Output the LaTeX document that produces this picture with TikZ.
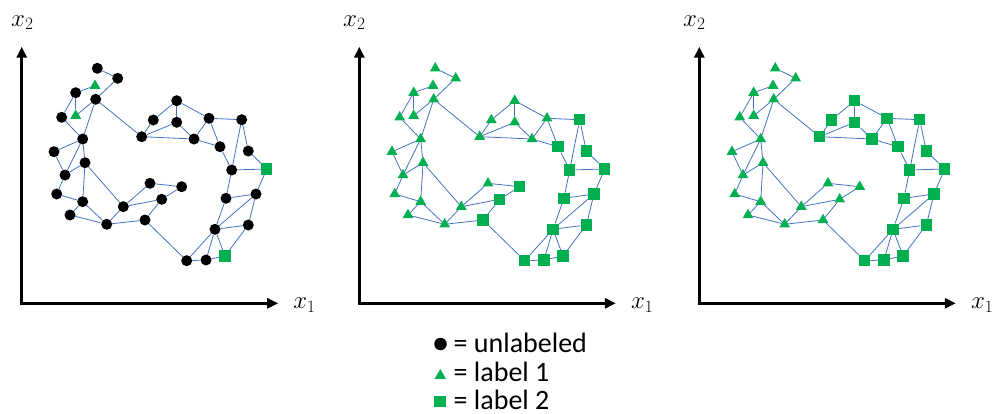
\documentclass[tikz,border=0pt]{standalone}
\usepackage{fontspec}
\newfontfamily\legendfont{Carlito}
\usetikzlibrary{shapes.geometric,arrows.meta}
\definecolor{linkblue}{HTML}{4472C4}
\definecolor{labgreen}{HTML}{00B050}
\tikzset{
	link/.style={draw=linkblue, line width=0.8pt},
	vu/.style={circle, fill=black, inner sep=0pt, minimum size=11pt},
	vt/.style={regular polygon, regular polygon sides=3, fill=labgreen, inner sep=0pt, minimum size=12.5pt},
	vs/.style={rectangle, fill=labgreen, inner sep=0pt, minimum size=11.5pt},
	axis/.style={line width=3pt, line join=miter, {Triangle[length=11pt,width=10pt]}-{Triangle[length=11pt,width=10pt]}},
	axlabel/.style={font=\fontsize{26}{30}\selectfont, inner sep=0pt},
	legtext/.style={anchor=base west, inner sep=0pt, font=\legendfont\fontsize{28}{30}\selectfont},
}
\begin{document}
\begin{tikzpicture}[x=1pt,y=-1pt,line join=round,line cap=round]
	\useasboundingbox (0,0) rectangle (995,413);
	
	% axes of the three panels
	\foreach \p/\ox/\lx in {a/21.7/11, b/359.3/343, c/699.3/683} {
		\coordinate (\p o) at (\ox,303.3);
		\coordinate (\p top) at (\ox,46.7);
		\coordinate (\p right) at (\ox+256.5,303.3);
		\draw[axis] (\p top) -- (\p o) -- (\p right);
		\node[axlabel, anchor=base west] (\p x2) at (\lx,26) {$x_2$};
		\node[axlabel, anchor=base west] (\p x1) at (\ox+271.5,308.3) {$x_1$};
	}
	
	% the same points in each panel: unlabeled (u), label 1 (t), label 2 (s)
	\foreach \i/\x/\y/\ka/\kb/\kc in {
		1/97.3/68.3/u/t/t, 2/117.7/78.3/u/t/t, 3/95/85.7/t/t/t,
		4/75.7/92.7/u/t/t, 5/95.7/99.3/u/t/t, 6/61.7/117.3/u/t/t,
		7/75.7/115.7/t/t/t, 8/82.7/139/u/t/t, 9/54/151.7/u/t/t,
		10/85/162.7/u/t/t, 11/65/175/u/t/t, 12/56.7/194/u/t/t,
		13/82.7/201.7/u/t/t, 14/70/215/u/t/t, 15/106.7/224.3/u/t/t,
		16/123.3/206.7/u/t/t, 17/150/183.3/u/t/t, 18/181.7/186.7/u/s/t,
		19/161.7/199.3/u/s/t, 20/145/220/u/s/t, 21/141.7/136.7/u/t/s,
		22/153.3/120/u/t/s, 23/176.7/100.7/u/t/s, 24/176.7/122.3/u/t/s,
		25/194/139/u/t/s, 26/209/118.3/u/t/s, 27/220/146.7/u/s/s,
		28/241.7/119.7/u/s/s, 29/248.3/151/u/s/s, 30/231.7/170/u/s/s,
		31/266.7/169/s/s/s, 32/226/198.3/u/s/s, 33/256/194/u/s/s,
		34/215/229.3/u/s/s, 35/248.3/225/u/s/s, 36/225/256/s/s/s,
		37/186.7/260.7/u/s/s, 38/206/260/u/s/s} {
		\node[v\ka] (a\i) at (\x,\y) {};
		\node[v\kb] (b\i) at (\x+338,\y) {};
		\node[v\kc] (c\i) at (\x+678,\y) {};
	}
	
	% neighbourhood graph
	\foreach \u/\w in {1/2, 2/5, 3/4, 4/6, 4/7, 5/7, 5/8, 6/8, 5/21,
		8/9, 8/10, 8/11, 9/11, 10/11, 11/12, 12/13, 10/13, 13/14, 14/15,
		13/15, 10/16, 15/16, 15/20, 16/17, 16/19, 17/18, 18/19, 19/20,
		20/37, 37/38, 38/36, 37/34, 38/34, 34/36, 34/32, 34/33, 34/35,
		32/33, 33/35, 35/36, 30/32, 31/33, 21/22, 22/23, 23/24, 23/26,
		21/24, 21/25, 24/25, 25/26, 25/27, 26/27, 27/30, 26/28, 28/30,
		28/29, 29/31, 30/31} {
		\foreach \p in {a,b,c}
			\draw[link] (\p\u) -- (\p\w);
	}
	
	% legend
	\node[vu, minimum size=12.5pt] (ku) at (440.5,344) {};
	\node[vt, minimum size=13pt] (kt) at (440.3,375.5) {};
	\node[vs, minimum size=11.5pt] (ks) at (440,401.5) {};
	\node[legtext] (lu) at (453.5,352.5) {= unlabeled};
	\node[legtext] (lt) at (453.5,381.5) {= label 1};
	\node[legtext] (ls) at (453.5,409.5) {= label 2};
\end{tikzpicture}
\end{document}
